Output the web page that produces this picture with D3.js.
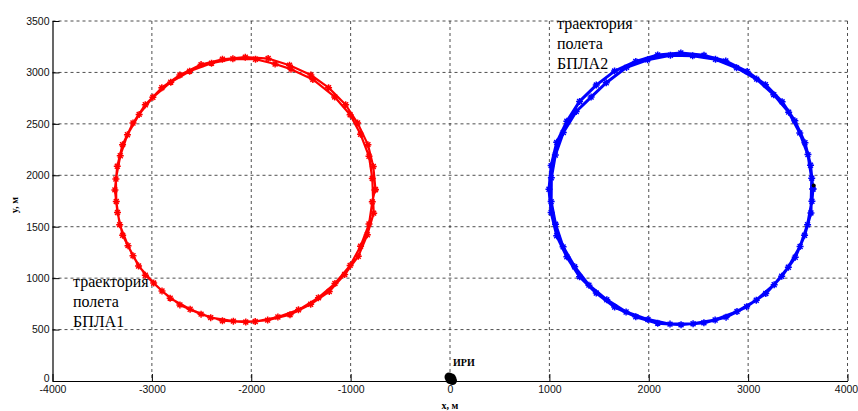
<!DOCTYPE html>
<html>
<head>
<meta charset="utf-8">
<script src="https://cdn.jsdelivr.net/npm/d3@7"></script>
<style>
  body { margin: 0; background: #fff; }
  svg { display: block; }
  .serif { font-family: "Liberation Serif", "Times New Roman", serif; }
</style>
</head>
<body>
<svg id="chart" width="858" height="411"></svg>
<script>
// axis ticks
const xTicks = [-4000, -3000, -2000, -1000, 0, 1000, 2000, 3000, 4000];
const yTicks = [0, 500, 1000, 1500, 2000, 2500, 3000, 3500];

// trajectory of UAV 1 (two laps)
const uav1X = [-750, -772, -826, -930, -1050, -1222, -1400, -1615, -1830, -2060, -2290, -2505, -2718, -2900, -3066, -3190, -3295, -3348,
  -3372, -3346, -3294, -3190, -3066, -2898, -2718, -2505, -2290, -2055, -1835, -1610, -1402, -1215, -1060, -923, -832, -768,
  -782, -815, -900, -1005, -1160, -1380, -1600, -1760, -1957, -2185, -2400, -2620, -2810, -2990, -3128, -3246, -3318, -3362,
  -3358, -3324, -3240, -3134, -2982, -2816, -2615, -2408, -2180, -1960, -1732, -1525, -1324, -1158, -1005, -900, -815, -782, -755];
const uav1Y = [1862, 2086, 2298, 2508, 2686, 2852, 2975, 3070, 3135, 3148, 3128, 3076, 2975, 2852, 2686, 2508, 2298, 2088,
  1858, 1638, 1416, 1218, 1028, 875, 740, 650, 586, 573, 592, 645, 746, 870, 1035, 1212, 1422, 1632,
  1968, 2185, 2398, 2588, 2762, 2932, 3032, 3082, 3128, 3132, 3090, 3012, 2905, 2758, 2592, 2394, 2190, 1964,
  1746, 1520, 1316, 1118, 952, 805, 698, 616, 582, 578, 622, 692, 810, 948, 1124, 1310, 1526, 1742, 1858];

// trajectory of UAV 2 (two laps)
const uav2X = [3652, 3628, 3572, 3470, 3342, 3174, 2990, 2775, 2556, 2323, 2090, 1870, 1656, 1472, 1304, 1176, 1074, 1018,
  996, 1018, 1074, 1176, 1304, 1472, 1657, 1870, 2090, 2325, 2555, 2778, 2985, 3178, 3338, 3474, 3568, 3632,
  3640, 3602, 3520, 3408, 3258, 3086, 2884, 2672, 2442, 2218, 1988, 1776, 1572, 1420, 1270, 1140, 1060, 1020,
  1018, 1062, 1138, 1255, 1398, 1578, 1772, 1992, 2214, 2446, 2668, 2888, 3082, 3262, 3405, 3523, 3598, 3642, 3652];
const uav2Y = [1866, 2098, 2316, 2529, 2714, 2881, 3009, 3111, 3166, 3190, 3170, 3107, 3013, 2877, 2718, 2525, 2320, 2094,
  1864, 1638, 1412, 1207, 1014, 855, 719, 625, 562, 546, 566, 621, 723, 851, 1018, 1203, 1416, 1634,
  1972, 2201, 2412, 2614, 2784, 2935, 3045, 3127, 3163, 3167, 3123, 3049, 2900, 2760, 2620, 2416, 2197, 1976,
  1744, 1523, 1304, 1110, 932, 789, 671, 597, 553, 557, 593, 675, 785, 936, 1106, 1308, 1519, 1748, 1866];

// emitter ("ИРИ") position and the odd black mark on trajectory 2
const iriX = [0, 15, -10, 25];
const iriY = [15, 30, 40, 5];
const markX = [3660];
const markY = [1900];

const margin = { top: 21, right: 10.5, bottom: 30, left: 52.5 };
const svgWidth = 858, svgHeight = 411;
const width = svgWidth - margin.left - margin.right;
const height = svgHeight - margin.top - margin.bottom;

const svg = d3.select("#chart");
const g = svg.append("g")
  .attr("transform", "translate(" + margin.left + "," + margin.top + ")");

const x = d3.scaleLinear().domain([-4000, 4000]).range([0, width]);
const y = d3.scaleLinear().domain([0, 3500]).range([height, 0]);

// dashed grid
g.append("g").selectAll("line")
  .data(xTicks.slice(1))
  .join("line")
  .attr("x1", d => x(d)).attr("x2", d => x(d))
  .attr("y1", 0).attr("y2", height)
  .attr("stroke", "#222").attr("stroke-width", 0.8)
  .attr("stroke-dasharray", "3,3");
g.append("g").selectAll("line")
  .data(yTicks.slice(1))
  .join("line")
  .attr("x1", 0).attr("x2", width)
  .attr("y1", d => y(d)).attr("y2", d => y(d))
  .attr("stroke", "#222").attr("stroke-width", 0.8)
  .attr("stroke-dasharray", "3,3");

// axes
const fmt = d => String(d);
const xAxis = g.append("g")
  .attr("transform", "translate(0," + height + ")")
  .call(d3.axisBottom(x).tickValues(xTicks).tickFormat(fmt).tickSize(-7).tickSizeOuter(0).tickPadding(5));
const yAxis = g.append("g")
  .call(d3.axisLeft(y).tickValues(yTicks).tickFormat(fmt).tickSize(-7).tickSizeOuter(0).tickPadding(3));

[xAxis, yAxis].forEach(a => {
  a.selectAll("text")
    .style("font-family", "'Liberation Sans', Arial, sans-serif")
    .style("font-size", "10.5px")
    .attr("fill", "#111");
  a.select(".domain").attr("stroke", "#000").attr("stroke-width", 1.2);
  a.selectAll(".tick line").attr("stroke", "#000");
});
yAxis.select(".tick text").attr("dy", "0.05em");
xAxis.selectAll(".tick text").filter(d => d === 4000).attr("dx", "-1.5");

// trajectories
const line = d3.line().x(d => x(d[0])).y(d => y(d[1]));
const star = s => {
  const d = s * 0.7;
  return `M${-s},0H${s}M0,${-s}V${s}M${-d},${-d}L${d},${d}M${-d},${d}L${d},${-d}`;
};

function drawTrack(xs, ys, color, lw) {
  const pts = d3.zip(xs, ys);
  g.append("path")
    .datum(pts)
    .attr("d", line)
    .attr("fill", "none")
    .attr("stroke", color)
    .attr("stroke-width", lw)
    .attr("stroke-linejoin", "round");
  g.append("g").selectAll("path")
    .data(pts)
    .join("path")
    .attr("transform", d => `translate(${x(d[0])},${y(d[1])})`)
    .attr("d", star(3.5))
    .attr("fill", "none")
    .attr("stroke", color)
    .attr("stroke-width", 1.5);
}

drawTrack(uav1X, uav1Y, "#ff0000", 2.2);
drawTrack(uav2X, uav2Y, "#0000ff", 3);

// emitter
g.append("g").selectAll("circle")
  .data(d3.zip(iriX, iriY))
  .join("circle")
  .attr("cx", d => x(d[0])).attr("cy", d => y(d[1]))
  .attr("r", 4.5)
  .attr("fill", "#000");
g.append("g").selectAll("circle")
  .data(d3.zip(markX, markY))
  .join("circle")
  .attr("cx", d => x(d[0])).attr("cy", d => y(d[1]))
  .attr("r", 2)
  .attr("fill", "#000");

// labels
svg.append("text")
  .attr("class", "serif")
  .attr("x", 453).attr("y", 366)
  .style("font-size", "10px").style("font-weight", "bold")
  .text("ИРИ");
svg.append("text")
  .attr("class", "serif")
  .attr("x", x(0) + margin.left).attr("y", 409)
  .attr("text-anchor", "middle")
  .style("font-size", "10px").style("font-weight", "bold")
  .text("x, м");
svg.append("text")
  .attr("class", "serif")
  .attr("transform", "translate(18,205) rotate(-90)")
  .attr("text-anchor", "middle")
  .style("font-size", "10px").style("font-weight", "bold")
  .text("y, м");

function note(x0, y0, lines) {
  const t = svg.append("text")
    .attr("class", "serif")
    .attr("x", x0).attr("y", y0)
    .style("font-size", "16px")
    .attr("fill", "#000");
  lines.forEach((s, i) => {
    t.append("tspan").attr("x", x0).attr("y", y0 + i * 20).text(s);
  });
}
note(557, 29, ["траектория", "полета", "БПЛА2"]);
note(73, 287, ["траектория", "полета", "БПЛА1"]);
</script>
</body>
</html>
